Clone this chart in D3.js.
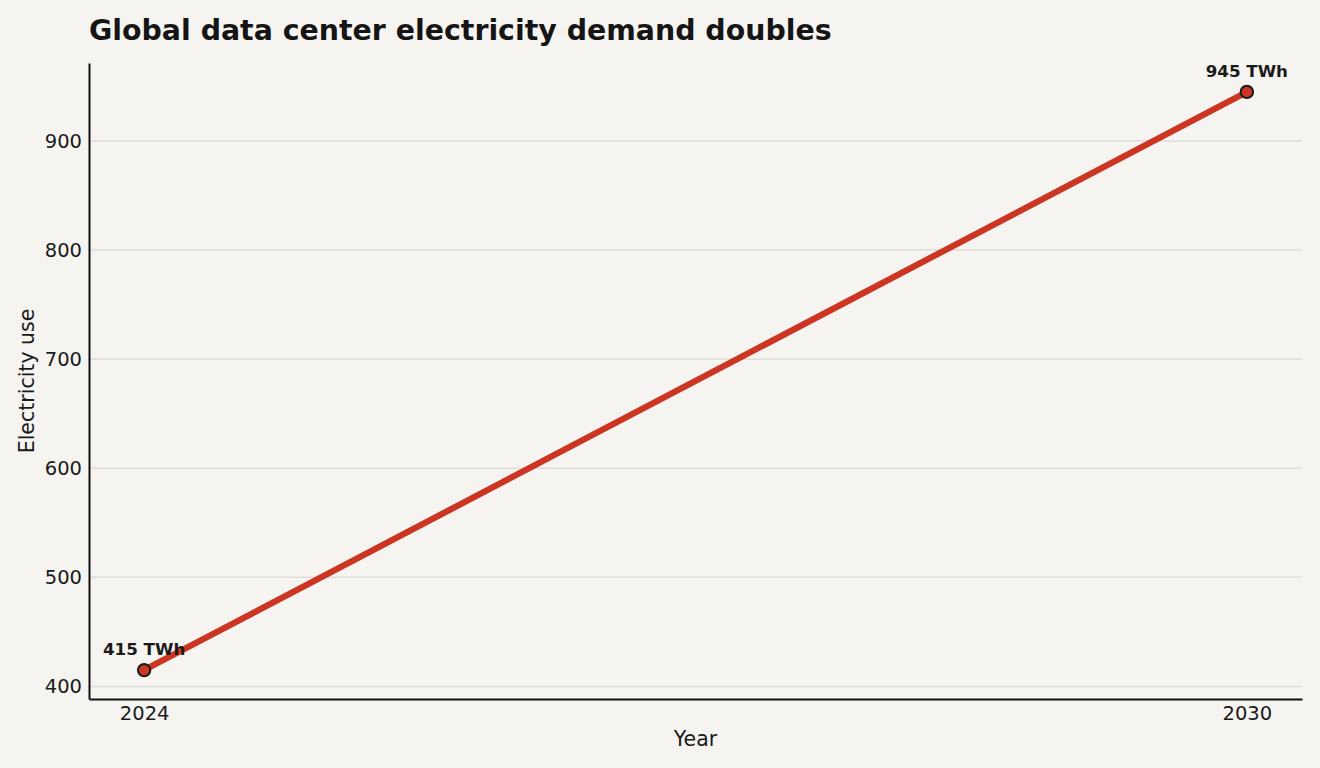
<!DOCTYPE html>
<html>
<head>
<meta charset="utf-8">
<script src="https://cdn.jsdelivr.net/npm/d3@7"></script>
<style>
  body { margin: 0; background: #f5f4f0; }
  text { font-family: "DejaVu Sans", sans-serif; fill: #1a1a1a; }
</style>
</head>
<body>
<svg width="1320" height="768"></svg>
<script>
var years = [2024, 2030];
var demand = [415, 945];
var labels = ["415 TWh", "945 TWh"];
var yTicks = [400, 500, 600, 700, 800, 900];

var svg = d3.select("svg"),
  margin = {top: 63, right: 18, bottom: 69, left: 89},
  width = +svg.attr("width") - margin.left - margin.right,
  height = +svg.attr("height") - margin.top - margin.bottom;

svg.append("rect").attr("width", 1320).attr("height", 768).attr("fill", "#f5f4f0");

var g = svg.append("g").attr("transform", "translate(" + margin.left + "," + margin.top + ")");

var xPad = (years[1] - years[0]) * 0.05,
  yPad = (d3.max(demand) - d3.min(demand)) * 0.05;

var x = d3.scaleLinear()
  .domain([years[0] - xPad, years[1] + xPad])
  .range([0, width]);

var y = d3.scaleLinear()
  .domain([d3.min(demand) - yPad, d3.max(demand) + yPad])
  .range([height, 0]);

// grid
g.selectAll(".grid")
  .data(yTicks)
  .enter().append("line")
  .attr("x1", 0).attr("x2", width)
  .attr("y1", function(d) { return y(d); })
  .attr("y2", function(d) { return y(d); })
  .attr("stroke", "#dfddd7")
  .attr("stroke-width", 1.5);

var yAxis = g.append("g")
  .call(d3.axisLeft(y).tickValues(yTicks).tickSize(0).tickPadding(7));
yAxis.select(".domain").attr("stroke", "#111").attr("stroke-width", 2);
yAxis.selectAll("text").style("font-size", "19.5px").attr("fill", "#1a1a1a");

var xAxis = g.append("g")
  .attr("transform", "translate(0," + height + ")")
  .call(d3.axisBottom(x).tickValues(years).tickFormat(d3.format("d")).tickSize(0).tickPadding(7));
xAxis.select(".domain").attr("stroke", "#111").attr("stroke-width", 2);
xAxis.selectAll("text").style("font-size", "19.5px").attr("fill", "#1a1a1a");

var pts = years.map(function(yr, i) { return {year: yr, value: demand[i], label: labels[i]}; });

g.append("path")
  .datum(pts)
  .attr("fill", "none")
  .attr("stroke", "#cc3522")
  .attr("stroke-width", 6.25)
  .attr("d", d3.line()
    .x(function(d) { return x(d.year); })
    .y(function(d) { return y(d.value); }));

g.selectAll(".dot")
  .data(pts)
  .enter().append("circle")
  .attr("cx", function(d) { return x(d.year); })
  .attr("cy", function(d) { return y(d.value); })
  .attr("r", 6.2)
  .attr("fill", "#cc3522")
  .attr("stroke", "#1a1a1a")
  .attr("stroke-width", 2);

g.selectAll(".lbl")
  .data(pts)
  .enter().append("text")
  .attr("x", function(d) { return x(d.year); })
  .attr("y", function(d) { return y(d.value) - 15; })
  .attr("text-anchor", "middle")
  .style("font-size", "16.7px")
  .style("font-weight", "bold")
  .text(function(d) { return d.label; });

svg.append("text")
  .attr("x", margin.left)
  .attr("y", 40)
  .style("font-size", "28.4px")
  .style("font-weight", "bold")
  .style("fill", "#151515")
  .text("Global data center electricity demand doubles");

svg.append("text")
  .attr("x", margin.left + width / 2)
  .attr("y", 746)
  .attr("text-anchor", "middle")
  .style("font-size", "20.5px")
  .text("Year");

svg.append("text")
  .attr("transform", "translate(34," + (margin.top + height / 2) + ") rotate(-90)")
  .attr("text-anchor", "middle")
  .style("font-size", "20.5px")
  .text("Electricity use");
</script>
</body>
</html>
